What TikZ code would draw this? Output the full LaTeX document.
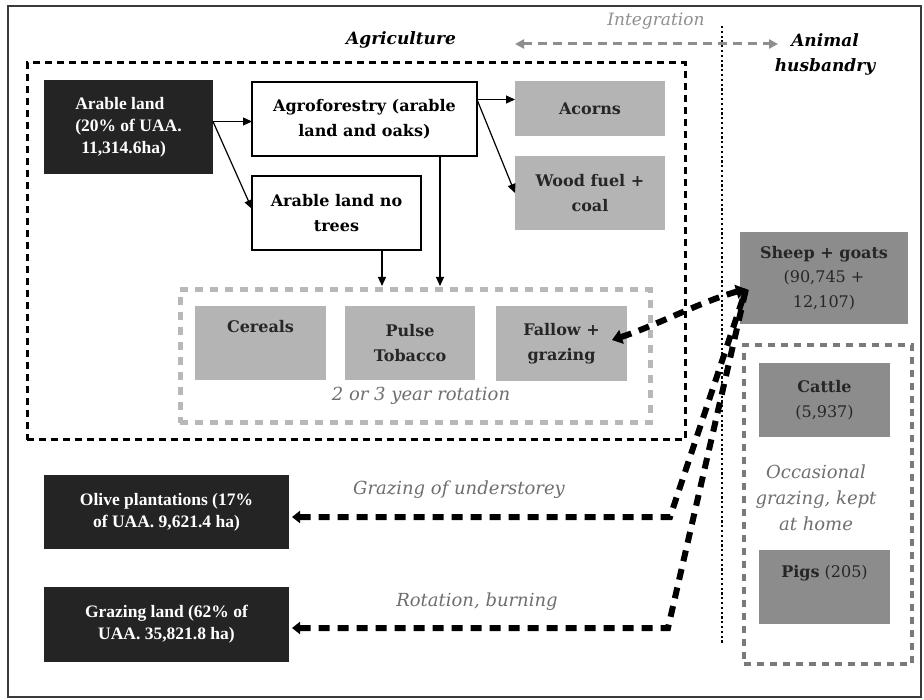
\documentclass[tikz,border=0pt]{standalone}
\usepackage{fontspec}
\setmainfont{DejaVu Serif}
\newfontfamily\tmsf{Liberation Serif}
\usetikzlibrary{arrows.meta}
\definecolor{boxblack}{HTML}{242424}
\definecolor{lgray}{HTML}{B4B4B4}
\definecolor{dgray}{HTML}{8C8C8C}
\definecolor{txtgray}{HTML}{6E6E6E}
\definecolor{intgray}{HTML}{8E8E8E}
\definecolor{rotgray}{HTML}{B8B8B8}
\definecolor{anigray}{HTML}{7A7A7A}
\definecolor{framecol}{HTML}{3A3A3A}
\begin{document}
\begin{tikzpicture}[x=1pt,y=-1pt,
  every node/.style={inner sep=0pt, outer sep=0pt},
  blkbox/.style={fill=boxblack, text=white, font=\tmsf\bfseries\fontsize{17.5}{22}\selectfont, align=center, anchor=north west},
  whbox/.style={draw=black, line width=1.2pt, fill=white, text=black, font=\bfseries\fontsize{16}{25}\selectfont, align=center, anchor=north west},
  lgbox/.style={fill=lgray, text=black!85, font=\bfseries\fontsize{16}{25}\selectfont, align=center, anchor=north west},
  dgbox/.style={fill=dgray, text=black!85, font=\fontsize{16}{24.5}\selectfont, align=center, anchor=north west},
  itlab/.style={text=txtgray, font=\itshape\fontsize{18}{26}\selectfont, align=center},
  hdr/.style={font=\bfseries\itshape\fontsize{17}{25}\selectfont, align=center},
  arr/.style={line width=1.2pt, -{Triangle[length=9pt,width=8pt]}},
  thickdash/.style={line width=6pt, dash pattern=on 11pt off 8pt}
]
\useasboundingbox (0,0) rectangle (924,700);
\draw[framecol, line width=1.6pt] (8,6) rectangle (921,697);

% containers
\node[draw=black, line width=3pt, dash pattern=on 7pt off 5pt, minimum width=658pt, minimum height=377pt, anchor=north west] (agri) at (27,63) {};
\node[draw=rotgray, line width=5pt, dash pattern=on 8pt off 7pt, minimum width=470pt, minimum height=133pt, anchor=north west] (rot) at (180,290) {};
\node[draw=anigray, line width=4pt, dash pattern=on 7pt off 6pt, minimum width=168pt, minimum height=319pt, anchor=north west] (ani) at (744,345) {};

% vertical dotted divider
\coordinate (vtop) at (722,26);
\coordinate (vbot) at (722,643);
\draw[line width=2.2pt, dash pattern=on 2.2pt off 2.6pt] (vtop) -- (vbot);

% titles
\node[hdr] (agrititle) at (401,40) {Agriculture};
\node[hdr] (anititle) at (825,54) {Animal\\husbandry};
\node[itlab, text=intgray, font=\itshape\fontsize{17}{26}\selectfont] (integ) at (656,21) {Integration};
\coordinate (intL) at (515,44);
\coordinate (intR) at (778,44);
\draw[intgray, line width=3pt, dash pattern=on 9pt off 6pt, {Triangle[length=9pt,width=9pt]}-{Triangle[length=9pt,width=9pt]}] (intL) -- (intR);

% boxes
\node[blkbox, minimum width=169pt, minimum height=94pt, align=left] (arable) at (44,80) {Arable land\\(20\% of UAA.\\\hspace*{6pt}11,314.6ha)};
\node[whbox, minimum width=225pt, minimum height=74pt] (agro) at (252,82) {Agroforestry (arable\\land and oaks)};
\node[whbox, minimum width=169pt, minimum height=74pt] (notrees) at (252,176) {Arable land no\\trees};
\node[lgbox, minimum width=150pt, minimum height=55pt] (acorns) at (515,81) {Acorns};
\node[lgbox, minimum width=150pt, minimum height=74pt] (wood) at (515,156) {Wood fuel +\\coal};
\node[lgbox, minimum width=131pt, minimum height=74pt] (cereals) at (195,306) {Cereals\\\strut};
\node[lgbox, minimum width=130pt, minimum height=74pt] (pulse) at (345,306) {Pulse\\Tobacco};
\node[lgbox, minimum width=131pt, minimum height=75pt] (fallow) at (496,306) {Fallow +\\grazing};
\node[itlab] (rotlab) at (421,396) {2 or 3 year rotation};

\node[dgbox, minimum width=168pt, minimum height=92pt] (sheep) at (740,232) {\textbf{Sheep + goats}\\(90,745 +\\12,107)};
\node[dgbox, minimum width=131pt, minimum height=74pt] (cattle) at (759,363) {\textbf{Cattle}\\(5,937)};
\node[itlab] (occ) at (816,498) {Occasional\\grazing, kept\\at home};
\node[dgbox, minimum width=131pt, minimum height=74pt] (pigs) at (759,550) {\textbf{Pigs} (205)\\\strut};

\node[blkbox, minimum width=245pt, minimum height=74pt] (olive) at (44,475) {Olive plantations (17\%\\of UAA. 9,621.4 ha)};
\node[blkbox, minimum width=245pt, minimum height=75pt] (grazing) at (44,587) {Grazing land (62\% of\\UAA. 35,821.8 ha)};
\node[itlab] (grzlab) at (459,490) {Grazing of understorey};
\node[itlab] (rotburn) at (477,602) {Rotation, burning};

% thin arrows
\draw[arr] ([yshift=5.5pt]arable.east) -- ([yshift=5.5pt]arable.east -| agro.west);
\draw[arr] ([yshift=5.5pt]arable.east) -- ([yshift=4pt]notrees.west);
\draw[arr] ([yshift=19.5pt]agro.east) -- ([yshift=19.5pt]agro.east -| acorns.west);
\draw[arr] ([yshift=19.5pt]agro.east) -- (wood.west);
\draw[arr, shorten >=4pt] ([xshift=45.5pt]notrees.south) -- ([xshift=45.5pt]notrees.south |- rot.north);
\draw[arr, shorten >=4pt] ([xshift=75.5pt]agro.south) -- ([xshift=75.5pt]agro.south |- rot.north);

% thick dashed grazing links
\coordinate (stip) at ([xshift=6pt,yshift=-11pt]sheep.west);
\coordinate (ftip) at ([xshift=-15pt,yshift=3.5pt]fallow.east);
\coordinate (oc) at (670,517);
\coordinate (gc) at (668,628);
\draw[thickdash, {Triangle[length=8pt,width=12pt]}-] ([xshift=3pt,yshift=-5pt]olive.east) -- (oc) -- (stip);
\draw[thickdash, {Triangle[length=8pt,width=12pt]}-] ([xshift=3pt,yshift=-3.5pt]grazing.east) -- (gc) -- (stip);
\draw[thickdash, {Triangle[length=10pt,width=14pt]}-{Triangle[length=10pt,width=14pt]}] (ftip) .. controls (655,326) and (700,302) .. (stip);
\end{tikzpicture}
\end{document}
